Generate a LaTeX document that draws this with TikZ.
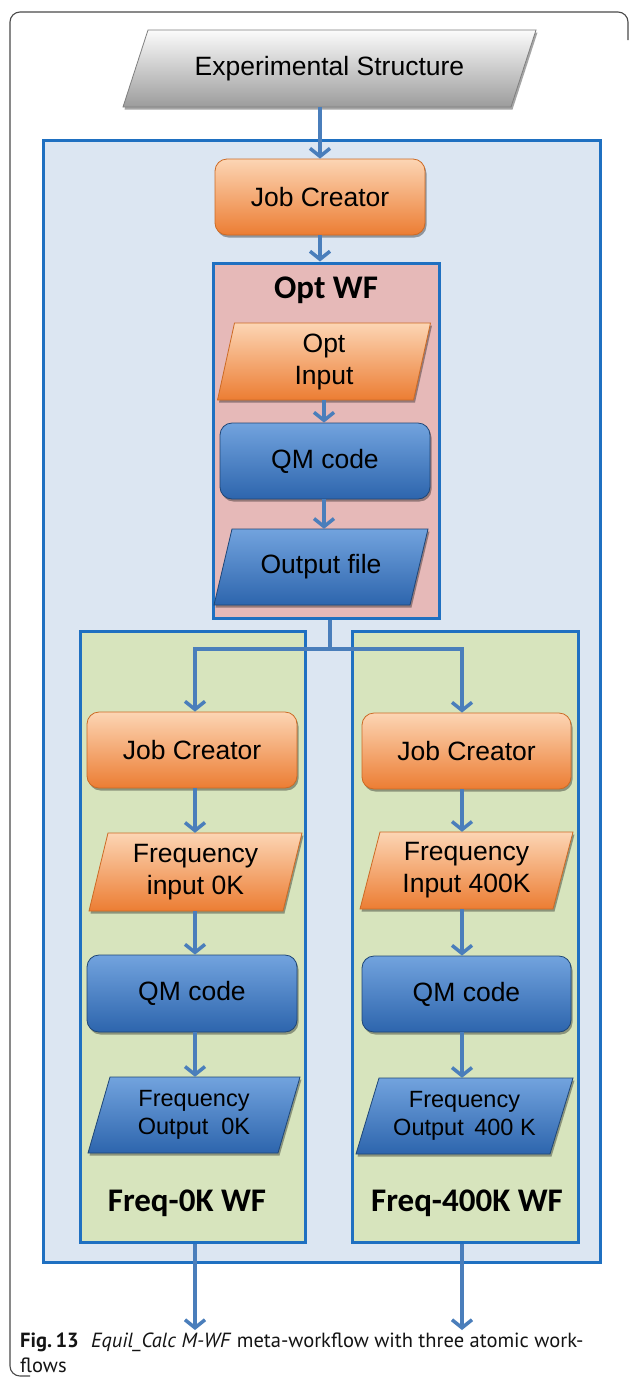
\documentclass[tikz,border=0pt]{standalone}
\usepackage{fontspec}
\setmainfont{Liberation Sans}
\newfontfamily\titlefont{Carlito}
\newfontfamily\capfont{PT Sans}
\usetikzlibrary{arrows.meta,shadows,calc}

\definecolor{framegray}{HTML}{4A4A4A}
\definecolor{contf}{HTML}{DCE6F2}
\definecolor{contb}{HTML}{1F70C1}
\definecolor{pinkf}{HTML}{E6B9B8}
\definecolor{greenf}{HTML}{D7E4BD}
\definecolor{arr}{HTML}{4A7EBB}
\definecolor{orT}{HTML}{FCD5B4}
\definecolor{orM}{HTML}{F8A463}
\definecolor{orB}{HTML}{EC7D33}
\definecolor{orD}{HTML}{CC6A24}
\definecolor{blT}{HTML}{72A3DE}
\definecolor{blM}{HTML}{4884CC}
\definecolor{blB}{HTML}{2D65AD}
\definecolor{blD}{HTML}{1E4677}
\definecolor{gyT}{HTML}{FBFBFB}
\definecolor{gyB}{HTML}{9C9C9C}
\definecolor{gyD}{HTML}{7F7F7F}

\newcommand\bigtxt{\fontsize{26.5}{32}\selectfont}
\newcommand\smalltxt{\fontsize{23.5}{28.5}\selectfont}

\tikzset{
  shad/.style={drop shadow={shadow xshift=1.5pt, shadow yshift=-2.5pt, opacity=0.35, fill=black}},
  orangebox/.style={rectangle, rounded corners=12pt, draw=orD, line width=0.8pt,
    top color=orT, middle color=orM, bottom color=orB, shad, font=\bigtxt, inner sep=0pt, text=black},
  bluebox/.style={rectangle, rounded corners=12pt, draw=blD, line width=0.8pt,
    top color=blT, middle color=blM, bottom color=blB, shad, font=\bigtxt, inner sep=0pt, text=black},
  orangepara/.style={draw=orD, line width=0.8pt, top color=orT, middle color=orM, bottom color=orB, shad},
  bluepara/.style={draw=blD, line width=0.8pt, top color=blT, middle color=blM, bottom color=blB, shad},
  greypara/.style={draw=gyD, line width=0.8pt, top color=gyT, bottom color=gyB, shad},
  contbox/.style={rectangle, draw=contb, line width=3pt, fill=contf, inner sep=0pt},
  wfbox/.style={rectangle, draw=contb, line width=3pt, inner sep=0pt},
  wftitle/.style={font=\titlefont\bfseries\fontsize{33}{38}\selectfont, inner sep=0pt},
  txt/.style={align=center, inner sep=0pt, text=black},
  arrowline/.style={draw=arr, line width=3.5pt, -{Straight Barb[length=8pt,width=20pt]}},
  plainline/.style={draw=arr, line width=3.5pt},
  captext/.style={anchor=base west, inner sep=0pt, font=\capfont\fontsize{20.5}{26}\selectfont, text=black!92},
}

% #1 name, #2 cx, #3 cy, #4 width, #5 height, #6 slant offset, #7 style, #8 font, #9 text
\newcommand\mypara[9]{%
  \path[#7] ({#2-#4/2+#6/2},{#3-#5/2}) -- ({#2+#4/2+#6/2},{#3-#5/2})
    -- ({#2+#4/2-#6/2},{#3+#5/2}) -- ({#2-#4/2-#6/2},{#3+#5/2}) -- cycle;
  \node[txt, font=#8, minimum width=#4pt, minimum height=#5pt] (#1) at (#2,#3) {#9};}

\begin{document}
\begin{tikzpicture}[x=1pt,y=-1pt]
\useasboundingbox (0,0) rectangle (629,1377);
\fill[white] (0,0) rectangle (629,1377);

% outer frame
\draw[framegray, line width=1.1pt, rounded corners=10pt]
  (30,1376) -- (10,1376) -- (10,12) -- (628,12) -- (628,40);

% experimental structure
\mypara{exp}{329.5}{68.5}{388}{77}{25}{greypara}{\bigtxt}{Experimental Structure}

% meta workflow container
\node[contbox, minimum width=557pt, minimum height=1122pt] (meta) at (321.5,701) {};

% Opt WF
\node[wfbox, fill=pinkf, minimum width=226pt, minimum height=355pt] (optwf) at (326,440.5) {};
\node[wftitle] (optt) at (326,290) {Opt WF};

% Freq WFs
\node[wfbox, fill=greenf, minimum width=225pt, minimum height=611pt] (wfL) at (192.5,936.5) {};
\node[wfbox, fill=greenf, minimum width=226pt, minimum height=611pt] (wfR) at (465,936.5) {};
\node[wftitle] (tL) at (187,1203) {Freq-0K WF};
\node[wftitle] (tR) at (467,1203) {Freq-400K WF};

% top job creator
\node[orangebox, minimum width=210pt, minimum height=76pt] (jc0) at (320,197) {Job Creator};

% opt nodes
\mypara{optin}{324}{361.5}{196}{77}{17}{orangepara}{\bigtxt}{Opt\\Input}
\node[bluebox, minimum width=210pt, minimum height=76pt] (qm0) at (325,461) {QM code};
\mypara{outf}{321}{567}{196}{76}{18}{bluepara}{\bigtxt}{Output file}

% left column
\node[orangebox, minimum width=210pt, minimum height=76pt] (jc1) at (192,750) {Job Creator};
\mypara{fin0}{195.5}{872}{194}{78}{19}{orangepara}{\bigtxt}{Frequency\\input 0K}
\node[bluebox, minimum width=210pt, minimum height=77pt] (qm1) at (192,993.5) {QM code};
\mypara{fout0}{194}{1115}{190}{76}{22}{bluepara}{\smalltxt}{Frequency\\Output\hspace{0.55em}0K}

% right column
\node[orangebox, minimum width=209pt, minimum height=76pt] (jc2) at (466.5,751) {Job Creator};
\mypara{fin4}{466.5}{870.5}{193}{77}{20}{orangepara}{\bigtxt}{Frequency\\Input 400K}
\node[bluebox, minimum width=209pt, minimum height=76pt] (qm2) at (466.5,994) {QM code};
\mypara{fout4}{464.5}{1116}{194}{76}{23}{bluepara}{\smalltxt}{Frequency\\Output\hspace{0.45em}400 K}

% column guide coordinates
\coordinate (colL) at (195,0);
\coordinate (colR) at (462,0);
\coordinate (split) at (330,649);
\coordinate (outL) at (195,1330);
\coordinate (outR) at (462,1330);

% connectors
\draw[arrowline] (jc0.north |- exp.south) -- (jc0.north);
\draw[arrowline] (jc0.south) -- (jc0.south |- optwf.north);
\draw[arrowline] (optin.south) -- (optin.south |- qm0.north);
\draw[arrowline] (qm0.south -| optin.south) -- (optin.south |- outf.north);

\draw[plainline] (split |- optwf.south) -- (split);
\draw[arrowline] (split) -| (colL |- jc1.north);
\draw[arrowline] (split) -| (colR |- jc2.north);

\draw[arrowline] (colL |- jc1.south) -- (colL |- fin0.north);
\draw[arrowline] (colL |- fin0.south) -- (colL |- qm1.north);
\draw[arrowline] (colL |- qm1.south) -- (colL |- fout0.north);
\draw[arrowline] (colR |- jc2.south) -- (colR |- fin4.north);
\draw[arrowline] (colR |- fin4.south) -- (colR |- qm2.north);
\draw[arrowline] (colR |- qm2.south) -- (colR |- fout4.north);

\draw[arrowline] (colL |- wfL.south) -- (outL);
\draw[arrowline] (colR |- wfR.south) -- (outR);

% caption
\node[captext] (cap1) at (20,1347)
  {\textbf{Fig.\,13}\hspace{0.6em}\textit{Equil\_Calc M-WF} meta-workflow with three atomic work-};
\node[captext] (cap2) at (20,1372) {flows};
\end{tikzpicture}
\end{document}
